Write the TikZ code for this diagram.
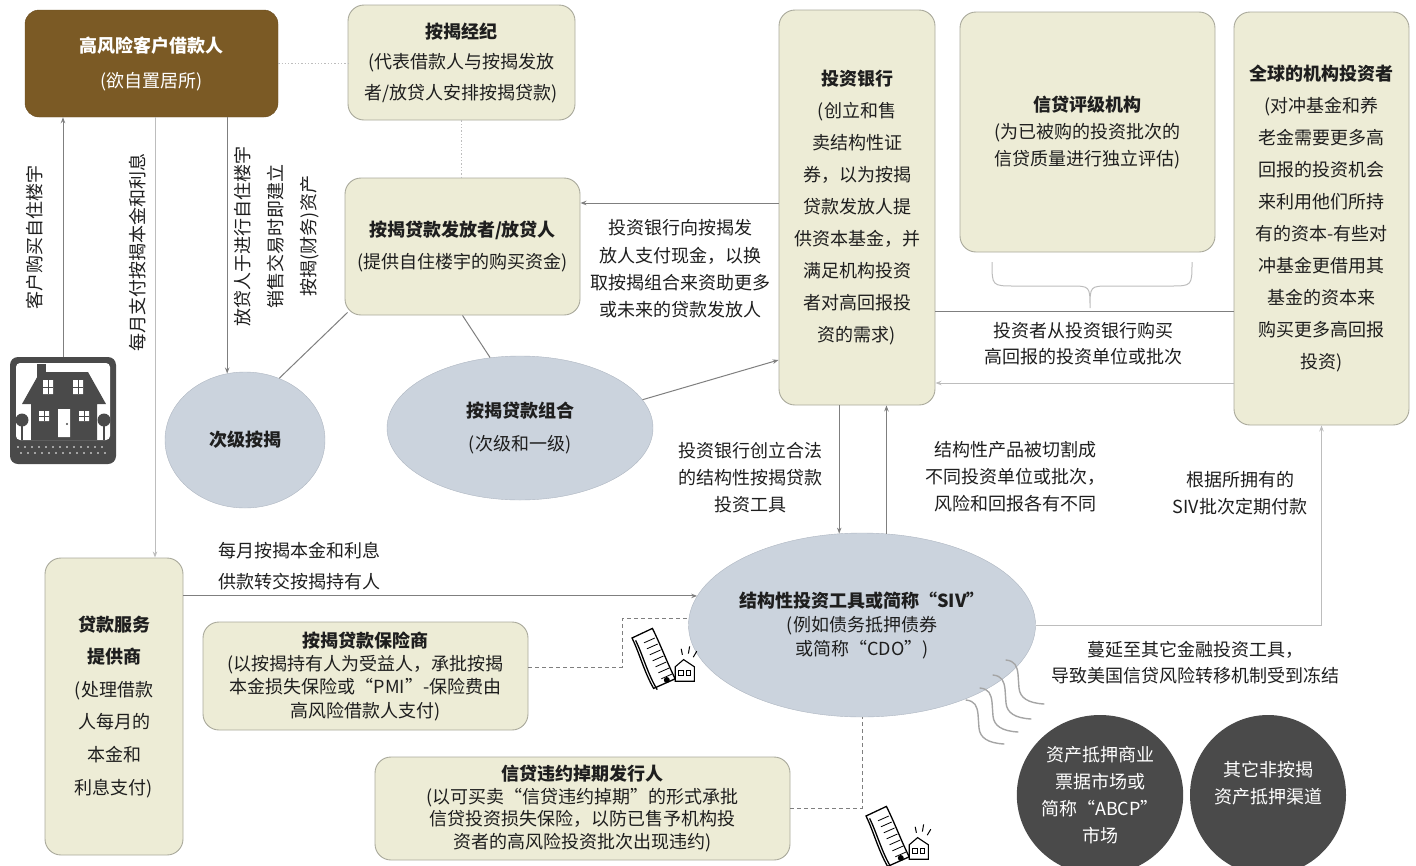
\documentclass[tikz,border=0pt]{standalone}
\usepackage{fontspec}
\setmainfont{Noto Sans CJK SC}
\usetikzlibrary{shapes.geometric,arrows.meta}
\definecolor{brownfill}{HTML}{7B5A25}
\definecolor{creamfill}{HTML}{EDECD6}
\definecolor{boxline}{HTML}{A9A99B}
\definecolor{ellfill}{HTML}{CBD3DD}
\definecolor{elline}{HTML}{AEB6C1}
\definecolor{darkfill}{HTML}{4A4A4A}
\definecolor{linegray}{HTML}{7F7F7F}
\definecolor{lightline}{HTML}{BDBDBD}
\definecolor{txt}{HTML}{1E1E1E}
\newcommand\fs[2]{\fontsize{#1}{#2}\selectfont}
\tikzset{
  cream/.style={draw=boxline, fill=creamfill, rounded corners=16pt, line width=0.9pt, align=center, inner sep=0pt},
  brownbox/.style={fill=brownfill, draw=brownfill!85!black, rounded corners=14pt, align=center, text=white, inner sep=0pt},
  lightell/.style={ellipse, draw=elline, fill=ellfill, align=center, inner sep=0pt},
  darkell/.style={ellipse, fill=darkfill, text=white, align=center, inner sep=0pt},
  lbl/.style={align=center, inner sep=0pt},
  conn/.style={draw=linegray, line width=1pt},
  arr/.style={conn, -{Stealth[length=6pt,width=4.5pt]}},
  lightconn/.style={draw=lightline, line width=1pt},
  lightarr/.style={lightconn, -{Stealth[length=6pt,width=4.5pt]}},
  dotc/.style={draw=lightline, line width=1.3pt, dotted},
  dashc/.style={draw=linegray, line width=1pt, dash pattern=on 4pt off 3pt},
  wave/.style={draw=linegray!70, line width=1.4pt, line cap=round},
  docicon/.pic={
    \draw[line width=1.3pt, fill=white] (0,10) .. controls (6,22) and (10,38) .. (18,52) -- (36,44) .. controls (29,30) and (24,16) .. (17,2) -- cycle;
    \draw[line width=1.3pt] (3,12) .. controls (9,24) and (13,40) .. (21,53);
    \foreach \i in {0,...,6} \draw[line width=0.8pt] (10+2.4*\i, 14+5*\i) -- (19+2.4*\i, 10+5*\i);
    \fill (29,45) circle (2.5);
    \draw[line width=1.1pt, fill=white] (36,46) -- (36,34) -- (43,28) -- (52,34) -- (52,46) -- cycle;
    \draw[line width=0.9pt] (39,37) rectangle (43,41) (45,37) rectangle (49,41);
    \draw[line width=1pt] (42,24) -- (41,19) (47,23) -- (48,17) (51,26) -- (54,21);
  }
}
\begin{document}
\begin{tikzpicture}[x=1pt,y=-1pt, every node/.style={text=txt}]
\useasboundingbox (0,0) rectangle (1416,865);

% ---------------- boxes ----------------
\node[brownbox, minimum width=253pt, minimum height=107pt, font=\fs{18}{35}] (borrower) at (151.5,63.5)
  {{\bfseries 高风险客户借款人}\\(欲自置居所)};
\node[cream, minimum width=227pt, minimum height=115pt, font=\fs{18}{30.5}] (broker) at (461.5,62.5)
  {{\bfseries 按揭经纪}\\(代表借款人与按揭发放\\者/放贷人安排按揭贷款)};
\node[cream, minimum width=235pt, minimum height=137pt, font=\fs{18}{32}] (orig) at (462.5,246.5)
  {{\bfseries 按揭贷款发放者/放贷人}\\(提供自住楼宇的购买资金)};
\node[cream, minimum width=156pt, minimum height=395pt, font=\fs{18}{32}] (ib) at (857,207.5)
  {{\bfseries 投资银行}\\(创立和售\\卖结构性证\\券，以为按揭\\贷款发放人提\\供资本基金，并\\满足机构投资\\者对高回报投\\资的需求)};
\node[cream, minimum width=255pt, minimum height=240pt, font=\fs{18}{27}] (cra) at (1087.5,132)
  {{\bfseries 信贷评级机构}\\(为已被购的投资批次的\\信贷质量进行独立评估)};
\node[cream, minimum width=175pt, minimum height=413pt, font=\fs{18}{32}] (gi) at (1321.5,218.5)
  {{\bfseries 全球的机构投资者}\\(对冲基金和养\\老金需要更多高\\回报的投资机会\\来利用他们所持\\有的资本-有些对\\冲基金更借用其\\基金的资本来\\购买更多高回报\\投资)};
\node[cream, minimum width=138pt, minimum height=297pt, font=\fs{18}{32.6}] (serv) at (114,706.5)
  {{\bfseries 贷款服务}\\{\bfseries 提供商}\\(处理借款\\人每月的\\本金和\\利息支付)};
\node[cream, minimum width=325pt, minimum height=108pt, font=\fs{18}{23.3}] (ins) at (365.5,676)
  {{\bfseries 按揭贷款保险商}\\(以按揭持有人为受益人，承批按揭\\本金损失保险或“PMI”-保险费由\\高风险借款人支付)};
\node[cream, minimum width=415pt, minimum height=103pt, font=\fs{18}{22.7}] (cds) at (582.5,808.5)
  {{\bfseries 信贷违约掉期发行人}\\(以可买卖“信贷违约掉期”的形式承批\\信贷投资损失保险，以防已售予机构投\\资者的高风险投资批次出现违约)};

% ---------------- ellipses ----------------
\node[lightell, minimum width=160pt, minimum height=136pt, font=\fs{18}{30}] (sub) at (245,440) {\bfseries 次级按揭};
\node[lightell, minimum width=266pt, minimum height=144pt, font=\fs{18}{33}] (pool) at (520,428)
  {{\bfseries 按揭贷款组合}\\(次级和一级)};
\node[lightell, minimum width=296pt, minimum height=184pt, font=\fs{18}{24}] (siv) at (862,625)
  {{\bfseries 结构性投资工具或简称“SIV”}\\(例如债务抵押债券\\或简称“CDO”)};
\node[darkell, minimum width=156pt, minimum height=160pt, font=\fs{18}{27}] (abcp) at (1100,795)
  {资产抵押商业\\票据市场或\\简称“ABCP”\\市场};
\node[darkell, minimum width=156pt, minimum height=160pt] (other) at (1268,795) {};
\node[lbl, text=white, font=\fs{18}{27}] (othertxt) at (1268,783.5) {其它非按揭\\资产抵押渠道};

% ---------------- house icon ----------------
\node[inner sep=0pt, minimum width=106pt, minimum height=107pt] (house) at (63,410.5) {};
\fill[darkfill, rounded corners=8pt] (10,357) rectangle (116,464);
\fill[white, rounded corners=4pt] (16,363) rectangle (110,440);
\fill[darkfill] (22,404) -- (40,372) -- (88,372) -- (106,404) -- (97,404) -- (97,440) -- (31,440) -- (31,404) -- cycle;
\fill[darkfill] (37,364) rectangle (46,378);
\fill[white] (43,380) rectangle (53,394) (73,380) rectangle (83,394)
             (39,411) rectangle (49,421) (79,411) rectangle (89,421) (58,409) rectangle (70,437);
\draw[darkfill, line width=1pt] (48,380) -- (48,394) (43,387) -- (53,387) (78,380) -- (78,394) (73,387) -- (83,387)
   (44,411) -- (44,421) (39,416) -- (49,416) (84,411) -- (84,421) (79,416) -- (89,416);
\fill[darkfill] (67,424) circle (1.2);
\fill[darkfill] (22,420) circle (6.5) (104,420) circle (6.5);
\draw[darkfill, line width=2pt] (22,424) -- (22,440) (104,424) -- (104,440);
\foreach \i in {0,...,12} {\fill[white] (18+7*\i,447) circle (0.8); \fill[white] (21+7*\i,453) circle (0.8);}

% ---------------- labels ----------------
\node[lbl, rotate=90, font=\fs{18}{33}] (lbuy) at (35,237) {客户购买自住楼宇};
\node[lbl, rotate=90, font=\fs{18}{33}] (lpay) at (138,252) {每月支付按揭本金和利息};
\node[lbl, rotate=90, font=\fs{18}{33}] (lorig) at (277,236) {放贷人于进行自住楼宇\\销售交易时即建立\\按揭(财务)资产};
\node[lbl, font=\fs{18}{27.3}] (lcash) at (680,269) {投资银行向按揭发\\放人支付现金，以换\\取按揭组合来资助更多\\或未来的贷款发放人};
\node[lbl, font=\fs{18}{26}] (linv) at (1083,344) {投资者从投资银行购买\\高回报的投资单位或批次};
\node[lbl, font=\fs{18}{27}] (lcreate) at (750,477.5) {投资银行创立合法\\的结构性按揭贷款\\投资工具};
\node[lbl, font=\fs{18}{27}] (lslice) at (1015,476.5) {结构性产品被切割成\\不同投资单位或批次，\\风险和回报各有不同};
\node[lbl, font=\fs{18}{27}] (lsivpay) at (1240,493.5) {根据所拥有的\\SIV批次定期付款};
\node[lbl, align=left, anchor=west, font=\fs{18}{31}] (lserv) at (218,566.5) {每月按揭本金和利息\\供款转交按揭持有人};
\node[lbl, font=\fs{18}{26}] (lspread) at (1195,663) {蔓延至其它金融投资工具，\\导致美国信贷风险转移机制受到冻结};

% ---------------- helper coordinates ----------------
\coordinate (x622) at (622,0);

% ---------------- connectors ----------------
\draw[dotc] (borrower.east) -- (borrower.east -| broker.west);
\draw[dotc] (broker.south) -- (broker.south |- orig.north);
\draw[arr] (house.north) -- (house.north |- borrower.south);
\draw[lightarr] ([xshift=3.5pt]borrower.south) -- ([xshift=3.5pt]borrower.south |- serv.north);
\draw[arr] (borrower.south -| sub.105.6) -- (sub.105.6);
\draw[conn] ([shift={(3pt,3pt)}]orig.south west) -- (sub.61);
\draw[conn] (orig.south) -- (pool.113);
\draw[arr] (pool.13) -- ([yshift=-152.5pt]ib.west);
\draw[arr] ([yshift=4.5pt]ib.west) -- ([yshift=4.5pt]ib.west -| orig.east);
\draw[conn] ([yshift=-103.5pt]ib.east) -- ([yshift=-103.5pt]ib.east -| gi.west);
\draw[lightarr] ([yshift=-175.5pt]ib.east -| gi.west) -- ([yshift=-175.5pt]ib.east);
\draw[arr] (siv.104.8 |- ib.south) -- (siv.104.8);
\draw[arr] (siv.75.2) -- (siv.75.2 |- ib.south);
\draw[lightarr] (siv.east) -| (gi.south);
\draw[arr] (siv.170 -| serv.east) -- (siv.170);
\draw[dashc] ([yshift=9pt]ins.east) -| (x622 |- siv.178) -- (siv.178);
\draw[dashc] (cds.east) -| (siv.south);

% brace under rating agency
\draw[lightline, line width=1pt] (992,262) .. controls (992,286) .. (1015,286) -- (1070,286)
  .. controls (1090,286) .. (1090,308) .. controls (1090,286) .. (1110,286) -- (1170,286)
  .. controls (1192,286) .. (1192,262);

% document icons
\pic[scale=1.2] at (632,626) {docicon};
\pic[scale=1.2] at (866,804) {docicon};

% wavy lines
\foreach \wx/\wy in {1006/660,993/675,980/688,966/700}
  \draw[wave] (\wx,\wy) .. controls (\wx+9,\wy+1) and (\wx+11,\wy+6) .. (\wx+12,\wy+14) -- (\wx+13,\wy+28)
     .. controls (\wx+14,\wy+38) and (\wx+22,\wy+43) .. (\wx+38,\wy+44);
\end{tikzpicture}
\end{document}
